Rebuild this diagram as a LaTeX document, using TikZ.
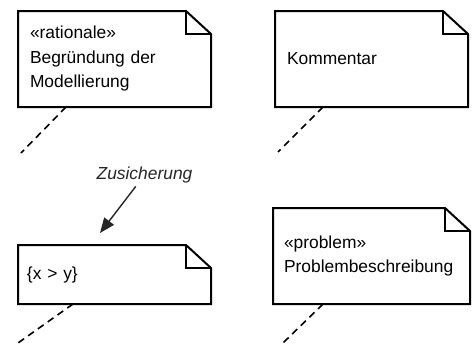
\documentclass[tikz,border=0pt]{standalone}
\usepackage{fontspec}
\setmainfont{Liberation Sans}
\usetikzlibrary{arrows.meta}

% note outline with folded corner
\newcommand{\notefold}[1]{%
  \draw[noteline] (#1.south west) -- (#1.north west) -- ([xshift=-25pt]#1.north east)
    -- ([yshift=-23pt]#1.north east) -- (#1.south east) -- cycle;
  \draw[noteline] ([xshift=-25pt]#1.north east) |- ([yshift=-23pt]#1.north east);}

\begin{document}
\begin{tikzpicture}[
    x=1pt, y=-1pt,
    every node/.style={font=\fontsize{17.4}{24.5}\selectfont, outer sep=0pt},
    note/.style={rectangle, align=left, inner xsep=12pt, inner ysep=0pt,
      minimum height=96pt, text width=169pt},
    noteline/.style={line width=2pt, line join=miter},
    anchorline/.style={line width=1.6pt, dash pattern=on 7pt off 5pt}
  ]
  \useasboundingbox (0,0) rectangle (474,343);

  % Notes
  \node[note] (rat) at (114.5,59) {«rationale»\\Begründung der\\Modellierung};
  \node[note] (kom) at (371.5,59) {Kommentar};
  \node[note, inner xsep=9pt, text width=175pt, minimum height=59pt] (zus) at (114.5,274.5) {\{x > y\}};
  \node[note, inner xsep=11pt, text width=175pt] (prob) at (371.5,256) {«problem»\\Problembeschreibung};
  \notefold{rat}
  \notefold{kom}
  \notefold{zus}
  \notefold{prob}

  % Anchor lines
  \coordinate (ratend) at (21,153);
  \coordinate (komend) at (278,152);
  \coordinate (zusend) at (18,343);
  \coordinate (probend) at (283,343);
  \draw[anchorline] ([xshift=48pt]rat.south west) -- (ratend);
  \draw[anchorline] ([xshift=48pt]kom.south west) -- (komend);
  \draw[anchorline] ([xshift=55pt]zus.south west) -- (zusend);
  \draw[anchorline] ([xshift=50pt]prob.south west) -- (probend);

  % Constraint label
  \node[font=\fontsize{17.4}{24.5}\selectfont\itshape, text=black!85] (zlab) at (144.5,175) {Zusicherung};
  \coordinate (ztip) at ([xshift=82pt,yshift=12pt]zus.north west);
  \draw[-{Triangle[length=15pt,width=12pt]}, line width=1.4pt, black!85] (zlab) -- (ztip);
\end{tikzpicture}
\end{document}
